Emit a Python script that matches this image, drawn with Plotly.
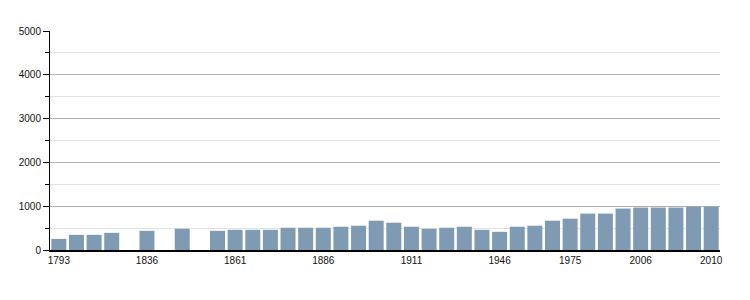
import plotly.graph_objects as go

years = ["1793", "1800", "1806", "1821", "1831", "1836", "1841", "1846", "1851", "1856",
         "1861", "1866", "1872", "1876", "1881", "1886", "1891", "1896", "1901", "1906",
         "1911", "1921", "1926", "1931", "1936", "1946", "1954", "1962", "1968", "1975",
         "1982", "1990", "1999", "2006", "2007", "2008", "2009", "2010"]
population = [254, 346, 346, 392, None, 438, None, 485, None, 438,
              461, 461, 461, 508, 508, 508, 531, 554, 669, 623,
              531, 485, 508, 531, 461, 415, 531, 554, 669, 715,
              831, 831, 946, 969, 969, 969, 992, 992]
tick_years = ["1793", "1836", "1861", "1886", "1911", "1946", "1975", "2006", "2010"]
y_ticks = [0, 1000, 2000, 3000, 4000, 5000]

fig = go.Figure(go.Bar(x=years, y=population, marker=dict(color="#7f9ab3", line=dict(width=0)),
                       hoverinfo="x+y"))

fig.update_layout(
    width=750, height=300,
    margin=dict(l=50, r=30, t=31, b=50),
    paper_bgcolor="white", plot_bgcolor="white",
    bargap=0.15,
    showlegend=False,
    font=dict(family="Liberation Sans, Arial, sans-serif", size=10, color="#111"),
)
fig.update_xaxes(
    type="category", categoryorder="array", categoryarray=years,
    tickmode="array", tickvals=tick_years, ticktext=tick_years,
    showline=True, linecolor="black", linewidth=2,
    ticks="", showgrid=False, zeroline=False,
)
fig.update_yaxes(
    range=[0, 5000], tickmode="array", tickvals=y_ticks,
    showline=True, linecolor="black", linewidth=1,
    ticks="outside", ticklen=6, tickcolor="black",
    showgrid=True, gridcolor="#b0b0b0", gridwidth=1,
    zeroline=False,
    minor=dict(dtick=500, ticks="outside", ticklen=4, tickcolor="black",
               showgrid=True, gridcolor="#e2e2e2"),
)

fig.write_html("out.html")
